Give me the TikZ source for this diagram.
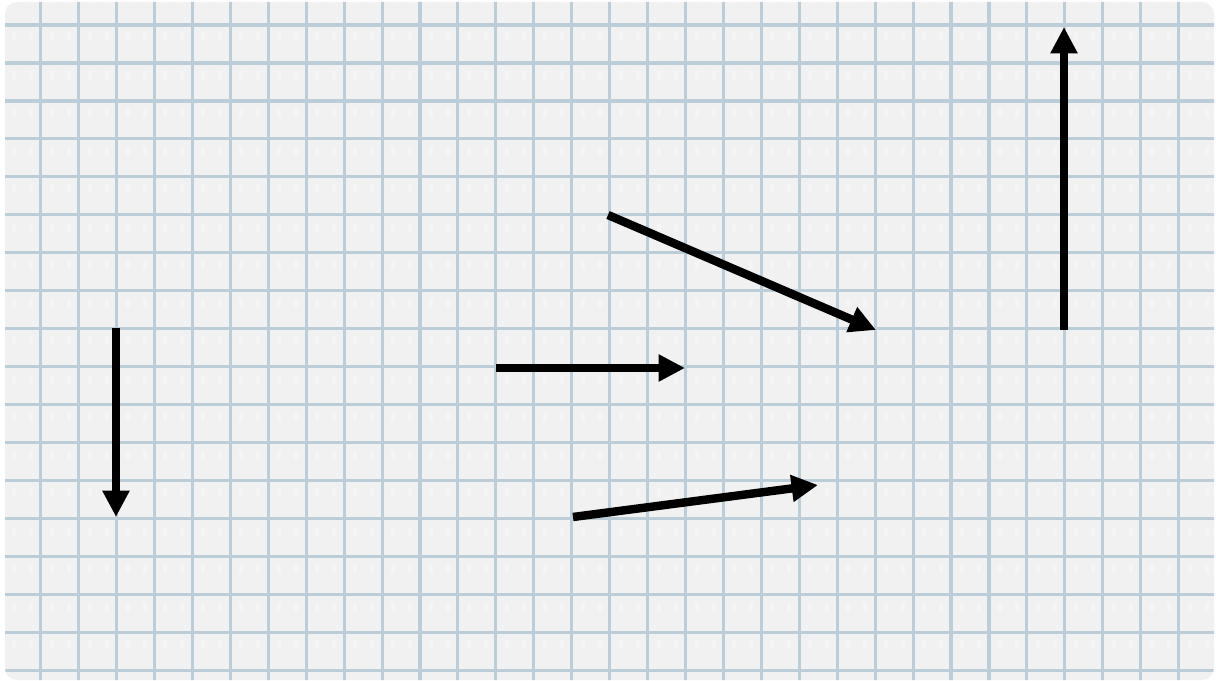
\documentclass[tikz,border=0pt]{standalone}
\usepackage{tikz}
\usepackage{xcolor}
\usetikzlibrary{
    arrows.meta
}
\definecolor{paperGray}{RGB}{241,241,241}
\definecolor{gridBlue}{RGB}{187,205,217}
\tikzset{
  paper/.style    = {fill=paperGray, rounded corners=8.5pt},
  gridline/.style = {gridBlue, line width=2.2pt},
  speck/.style    = {fill=white, opacity=0.3},
  vec/.style      = {-{Triangle[length=0.66cm, width=0.64cm]},
                     line width=6.0pt, black}
}

\begin{document}
\begin{tikzpicture}[x=0.025cm, y=-0.025cm]
    \useasboundingbox (0,0) rectangle (1216,681);

    % Paper sheet
    \path[paper] (5,2) rectangle (1214,680);

    \begin{scope}
      \clip[rounded corners=8.5pt] (5,2) rectangle (1214,680);
      % faint specks in the cells
      \foreach \i in {-1,...,30}
        \foreach \j in {-1,...,17} {
          \fill[speck] (40.7+37.93*\i+9, 25+37.98*\j+8) rectangle ++(4,8);
          \fill[speck] (40.7+37.93*\i+26, 25+37.98*\j+8) rectangle ++(4,8);
        }
      % Grid lines
      \foreach \i in {-1,...,30}
        \draw[gridline] (40.7+37.93*\i, 0) -- (40.7+37.93*\i, 681);
      \foreach \j in {-1,...,17}
        \draw[gridline] (0, 25+37.98*\j) -- (1216, 25+37.98*\j);
    \end{scope}

    % Vector end points
    \coordinate (downA)  at (116,328);
    \coordinate (downB)  at (116,517);
    \coordinate (rightA) at (496,368);
    \coordinate (rightB) at (685,368);
    \coordinate (lowA)   at (573,517);
    \coordinate (lowB)   at (818,485);
    \coordinate (highA)  at (608,215);
    \coordinate (highB)  at (876,330);
    \coordinate (upA)    at (1064,330);
    \coordinate (upB)    at (1064,27);

    % Vectors
    \draw[vec] (downA)  -- (downB);
    \draw[vec] (rightA) -- (rightB);
    \draw[vec] (lowA)   -- (lowB);
    \draw[vec] (highA)  -- (highB);
    \draw[vec] (upA)    -- (upB);
\end{tikzpicture}
\end{document}
